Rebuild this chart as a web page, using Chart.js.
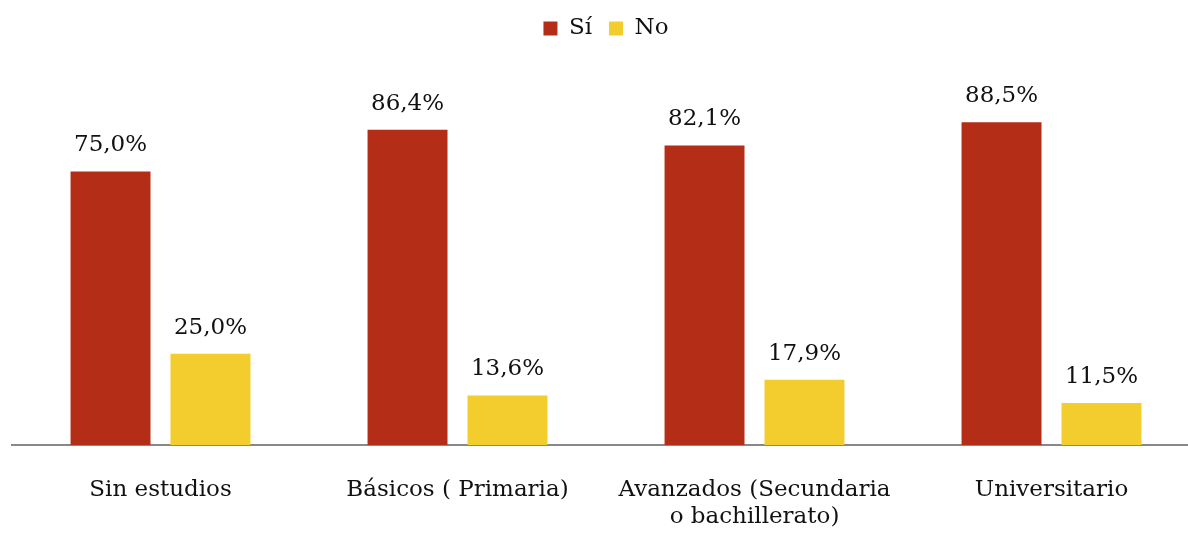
<!DOCTYPE html>
<html>
<head>
<meta charset="utf-8">
<script src="https://cdn.jsdelivr.net/npm/chart.js@4/dist/chart.umd.min.js"></script>
<style>
  html, body { margin: 0; padding: 0; background: #fff; overflow: hidden; }
  #wrap { width: 1200px; height: 533px; }
</style>
</head>
<body>
<div id="wrap"><canvas id="mycanvas"></canvas></div>
<script>
var categorias = ["Sin estudios", "Básicos ( Primaria)", ["Avanzados (Secundaria", "o bachillerato)"], "Universitario"];
var si = [75.0, 86.4, 82.1, 88.5];
var no = [25.0, 13.6, 17.9, 11.5];

var fuente = "'DejaVu Serif', 'Liberation Serif', serif";

// etiquetas encima de cada barra
var etiquetas = {
	id: "etiquetas",
	afterDatasetsDraw: function(chart) {
		var ctx = chart.ctx;
		ctx.save();
		ctx.font = "23px " + fuente;
		ctx.fillStyle = "#111";
		ctx.textAlign = "center";
		ctx.textBaseline = "middle";
		chart.data.datasets.forEach(function(ds, i) {
			chart.getDatasetMeta(i).data.forEach(function(bar, j) {
				var txt = ds.data[j].toFixed(1).replace(".", ",") + "%";
				ctx.fillText(txt, bar.x, bar.y - 26);
			});
		});
		ctx.restore();
	}
};

var chartdata = {
	labels: categorias,
	datasets: [
		{
			label: "Sí",
			backgroundColor: "#B32D17",
			data: si,
			barPercentage: 0.8,
			categoryPercentage: 0.673
		},
		{
			label: "No",
			backgroundColor: "#F3CC2E",
			data: no,
			barPercentage: 0.8,
			categoryPercentage: 0.673
		}
	]
};

var ctx = document.getElementById("mycanvas");

var grafico = new Chart(ctx, {
	type: "bar",
	data: chartdata,
	plugins: [etiquetas],
	options: {
		responsive: true,
		maintainAspectRatio: false,
		animation: false,
		layout: { padding: { left: 12, right: 0, top: 0, bottom: 2 } },
		plugins: {
			legend: {
				position: "top",
				weight: 3000,
				labels: {
					font: { family: fuente, size: 23 },
					color: "#111",
					boxWidth: 14,
					boxHeight: 14,
					padding: 17
				}
			},
			// espacio vacío entre leyenda y barras
			title: {
				display: true,
				text: " ",
				font: { size: 1 },
				padding: { top: 0, bottom: 29 }
			},
			tooltip: { enabled: false }
		},
		scales: {
			x: {
				grid: { display: false, drawTicks: false },
				border: { display: true, color: "#888", width: 2 },
				ticks: {
					font: { family: fuente, size: 23 },
					color: "#111",
					padding: 31,
					maxRotation: 0,
					autoSkip: false
				},
				afterFit: function(scale) {
					scale.height = 86;
				}
			},
			y: {
				min: 0,
				max: 100,
				display: false
			}
		}
	}
});
</script>
</body>
</html>
